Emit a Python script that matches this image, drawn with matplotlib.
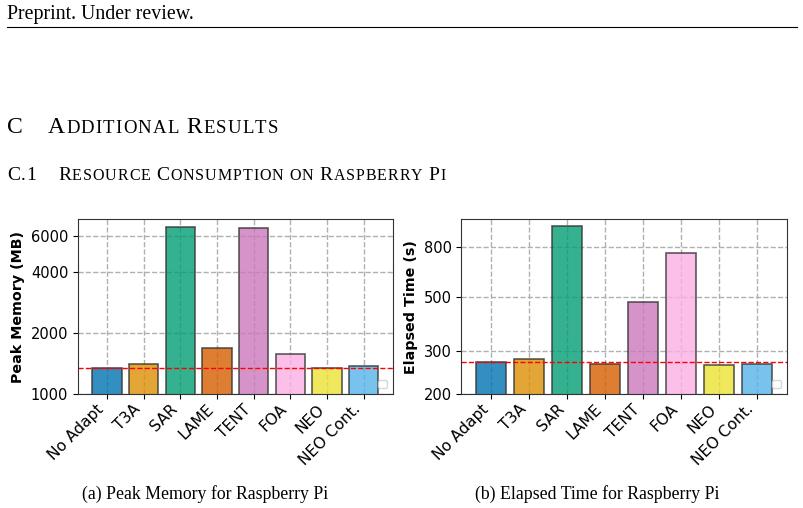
import matplotlib
matplotlib.use("Agg")
import matplotlib.pyplot as plt
import seaborn as sns
from matplotlib.ticker import FixedLocator, NullLocator, FixedFormatter

# data
methods = ["No Adapt", "T3A", "SAR", "LAME", "TENT", "FOA", "NEO", "NEO Cont."]
peak_memory = [1338, 1400, 6670, 1690, 6600, 1569, 1343, 1374]
elapsed_time = [269, 277, 967, 265, 475, 750, 262, 264]
mem_ticks = [1000, 2000, 4000, 6000]
time_ticks = [200, 300, 500, 800]

pal = sns.color_palette("colorblind")
colors = [pal[i] for i in [0, 1, 2, 3, 4, 6, 8, 9]]

serif = "Liberation Serif"

fig = plt.figure(figsize=(8.04, 5.08), dpi=100)
r = fig.canvas.get_renderer()
H = 508


def draw_smallcaps(x, y, parts, track=0.0):
    # fake small caps: each char placed one after another, with a bit of tracking
    for txt, size in parts:
        for ch in txt:
            if ch == " ":
                x += size * 1.389 * 0.25 + track
                continue
            t = fig.text(x, y, ch, fontsize=size, family=serif,
                         va="baseline", ha="left", transform=None)
            bb = t.get_window_extent(renderer=r)
            x = bb.x1 + track


fig.text(7, H - 19.5, "Preprint. Under review.", fontsize=14.3, family=serif,
         va="baseline", transform=None)
fig.add_artist(plt.Line2D([7, 797], [H - 27, H - 27], color="black", lw=0.8,
                          transform=None))
draw_smallcaps(7, H - 133, [("C", 17)])
draw_smallcaps(48, H - 133, [("A", 17), ("DDITIONAL ", 13.5), ("R", 17), ("ESULTS", 13.5)],
               track=1.2)
draw_smallcaps(7, H - 180.5, [("C.1", 14)], track=0.8)
draw_smallcaps(58, H - 180.5, [("R", 14), ("ESOURCE ", 11.5), ("C", 14), ("ONSUMPTION ON ", 11.5),
                                ("R", 14), ("ASPBERRY ", 11.5), ("P", 14), ("I", 11.5)], track=0.95)


def panel(rect, values, ticks, ylabel, ylim, caption, cap_x):
    ax = fig.add_axes(rect)
    ax.set_axisbelow(True)
    ax.grid(True, linestyle="--", color="#b0b0b0", linewidth=1)
    ax.bar(methods, values, color=colors, alpha=0.8, edgecolor="#333333",
           linewidth=1.2, width=0.8)
    ax.axhline(values[0], color="red", linestyle="--", linewidth=1)
    ax.set_yscale("log")
    ax.set_ylim(*ylim)
    ax.yaxis.set_major_locator(FixedLocator(ticks))
    ax.yaxis.set_major_formatter(FixedFormatter([str(t) for t in ticks]))
    ax.yaxis.set_minor_locator(NullLocator())
    ax.set_ylabel(ylabel, fontsize=10.3, fontweight="bold")
    ax.tick_params(axis="y", labelsize=10.5)
    ax.tick_params(axis="x", labelsize=11.2, pad=2)
    plt.setp(ax.get_xticklabels(), rotation=45, ha="right")
    for s in ax.spines.values():
        s.set_color("#333333")
    ax.legend(loc="lower right", fontsize=8)
    fig.text(cap_x, H - 498.5, caption, fontsize=12.8, family=serif,
             ha="center", va="baseline", transform=None)
    return ax


panel([0.0970, 0.2244, 0.3914, 0.3439], peak_memory, mem_ticks,
      "Peak Memory (MB)", (1000, 7250), "(a) Peak Memory for Raspberry Pi", 205.5)
panel([0.5738, 0.2244, 0.4047, 0.3439], elapsed_time, time_ticks,
      "Elapsed Time (s)", (200, 1033), "(b) Elapsed Time for Raspberry Pi", 597)

fig.savefig("out.png", dpi=100)
